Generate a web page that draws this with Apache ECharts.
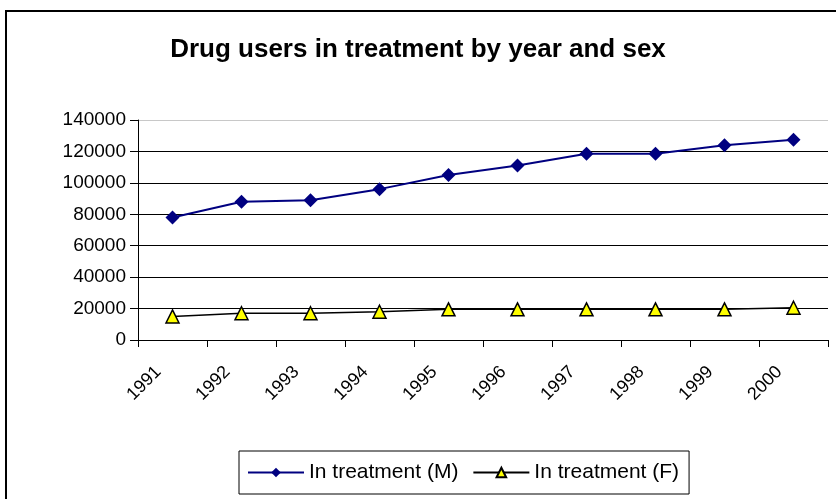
<!DOCTYPE html>
<html>
<head>
<meta charset="utf-8">
<script src="https://cdn.jsdelivr.net/npm/echarts@6/dist/echarts.min.js"></script>
<style>
  html, body { margin: 0; padding: 0; background: #fff; }
  #chart { width: 836px; height: 499px; }
</style>
</head>
<body>
<div id="chart"></div>
<script>
    // data
    var years = ['1991', '1992', '1993', '1994', '1995', '1996', '1997', '1998', '1999', '2000'];
    var maleTreatment = [78000, 88000, 89000, 96000, 105000, 111000, 118500, 118500, 124000, 127500];
    var femaleTreatment = [15000, 17000, 17000, 18000, 19500, 19500, 19500, 19500, 19500, 20500];
    var fontFam = 'Arial, "Liberation Sans", sans-serif';

    var myChart = echarts.init(document.getElementById('chart'));

    var option = {
        animation: false,
        backgroundColor: '#fff',
        title: {
            text: 'Drug users in treatment by year and sex',
            left: 'center',
            top: 32,
            textStyle: { fontFamily: fontFam, fontSize: 26, fontWeight: 'bold', color: '#000' }
        },
        graphic: [{
            type: 'rect',
            shape: { x: 6, y: 11, width: 840, height: 500 },
            style: { fill: 'none', stroke: '#000', lineWidth: 2 },
            silent: true
        }],
        grid: { left: 138, right: 8, top: 120, height: 220 },
        legend: {
            left: 239,
            top: 451,
            padding: [11, 10, 11, 8],
            itemGap: 14,
            itemWidth: 56,
            itemHeight: 12,
            borderColor: '#000',
            borderWidth: 1,
            textStyle: { fontFamily: fontFam, fontSize: 21, color: '#000' },
            data: ['In treatment (M)', 'In treatment (F)']
        },
        xAxis: {
            type: 'category',
            data: years,
            boundaryGap: true,
            axisLine: { lineStyle: { color: '#000', width: 1 } },
            axisTick: { show: true, interval: 0, length: 7, lineStyle: { color: '#000' } },
            axisLabel: { rotate: 45, interval: 0, margin: 15, padding: [0, 20, 0, 0], fontFamily: fontFam, fontSize: 18, color: '#000' }
        },
        yAxis: {
            type: 'value',
            min: 0,
            max: 140000,
            interval: 20000,
            axisLine: { show: true, lineStyle: { color: '#000', width: 1 } },
            axisTick: { show: true, length: 8, lineStyle: { color: '#000' } },
            axisLabel: {
                margin: 12,
                fontFamily: fontFam,
                fontSize: 19,
                color: '#000',
                formatter: function (v) { return String(v); }
            },
            splitLine: {
                show: true,
                lineStyle: { color: ['#000', '#000', '#000', '#000', '#000', '#000', '#000', '#c8c8c8'], width: 1 }
            }
        },
        series: [
            {
                name: 'In treatment (M)',
                type: 'line',
                data: maleTreatment,
                symbol: 'diamond',
                symbolSize: 14,
                lineStyle: { color: '#000080', width: 2 },
                itemStyle: { color: '#000080' }
            },
            {
                name: 'In treatment (F)',
                type: 'line',
                data: femaleTreatment,
                symbol: 'triangle',
                symbolSize: 13,
                lineStyle: { color: '#000', width: 1.5 },
                itemStyle: { color: '#ffff00', borderColor: '#000', borderWidth: 1.5 }
            }
        ]
    };

    myChart.setOption(option, true);
</script>
</body>
</html>
